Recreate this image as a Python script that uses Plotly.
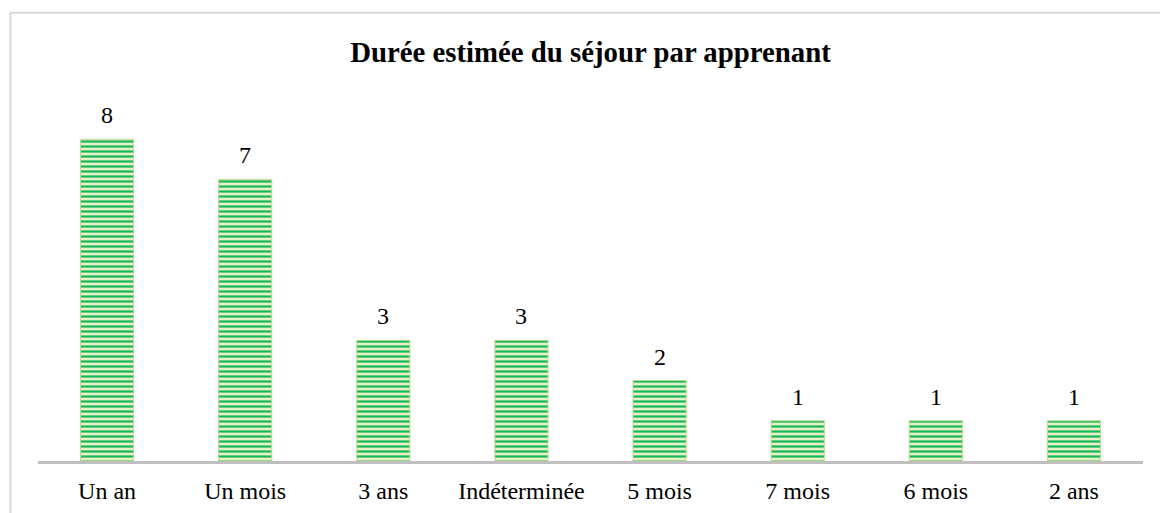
import plotly.graph_objects as go

categories = ["Un an", "Un mois", "3 ans", "Indéterminée", "5 mois", "7 mois", "6 mois", "2 ans"]
values = [8, 7, 3, 3, 2, 1, 1, 1]
title_text = "Durée estimée du séjour par apprenant"

font_family = "Liberation Serif, Times New Roman, serif"

fig = go.Figure(go.Bar(
    x=categories,
    y=values,
    marker=dict(
        color="#e6f1c6",
        line=dict(color="#c4d98e", width=1),
        pattern=dict(shape="-", fgcolor="#00b050", bgcolor="#e6f1c6", fgopacity=0.9,
                     size=5, solidity=0.45),
    ),
    hoverinfo="x+y",
))

# value labels above bars
for c, v in zip(categories, values):
    fig.add_annotation(x=c, y=v, text=str(v), showarrow=False, yanchor="middle", yshift=24,
                       font=dict(family=font_family, size=24, color="#000000"))

# chart frame (light grey, left and top edges)
fig.add_shape(type="line", xref="paper", yref="paper", x0=-0.0249, x1=-0.0249, y0=1.238, y1=-0.2,
              line=dict(color="#d9d9d9", width=2))
fig.add_shape(type="line", xref="paper", yref="paper", x0=-0.0249, x1=1.05, y0=1.238, y1=1.238,
              line=dict(color="#d9d9d9", width=2))

fig.update_layout(
    width=1160, height=513,
    margin=dict(l=38, r=17, t=99, b=52, autoexpand=False),
    paper_bgcolor="white", plot_bgcolor="white",
    bargap=0.615,
    showlegend=False,
    title=dict(text="<b>" + title_text + "</b>", x=0.5, xref="paper", xanchor="center",
               y=1 - 52 / 513, yref="container", yanchor="middle",
               font=dict(family=font_family, size=28.8, color="#000000")),
    xaxis=dict(showline=True, linecolor="#bfbfbf", linewidth=3, ticks="", showgrid=False,
               automargin=False,
               tickfont=dict(family=font_family, size=24, color="#000000"), ticklabelstandoff=6),
    yaxis=dict(range=[0, 9], visible=False, showgrid=False, automargin=False),
)

fig.write_html("out.html", config={"displayModeBar": False},
               post_script="document.body.style.margin='0';")
